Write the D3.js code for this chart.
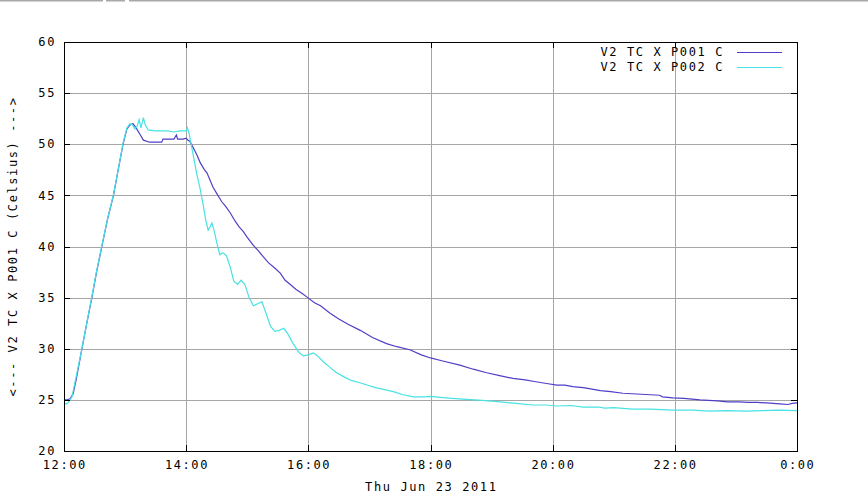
<!DOCTYPE html>
<html>
<head>
<meta charset="utf-8">
<script src="https://cdn.jsdelivr.net/npm/d3@7"></script>
<style>
  body { margin: 0; background: #fff; }
  text { font-family: "DejaVu Sans Mono", monospace; font-size: 12px; letter-spacing: 1.6px; fill: #000; }
</style>
</head>
<body>
<div id="chart"></div>
<script>
// Hours after 12:00 on Thu Jun 23 2011
const xTicks = [0, 2, 4, 6, 8, 10, 12];
const xTickLabels = ["12:00", "14:00", "16:00", "18:00", "20:00", "22:00", "0:00"];
const yTicks = [20, 25, 30, 35, 40, 45, 50, 55, 60];
const seriesNames = ["V2 TC X P001 C", "V2 TC X P002 C"];

// P001 readings [hour, celsius]
const p001 = [
  [0.00, 25.0], [0.05, 25.0], [0.10, 25.1], [0.15, 25.6], [0.20, 27.0], [0.29, 29.9],
  [0.37, 32.4], [0.45, 34.8], [0.53, 37.4], [0.62, 40.0], [0.71, 42.6], [0.81, 45.0],
  [0.89, 47.6], [0.97, 50.1], [1.03, 51.5], [1.08, 51.9], [1.13, 52.0], [1.18, 51.6],
  [1.25, 50.9], [1.30, 50.4], [1.40, 50.2], [1.50, 50.2], [1.60, 50.2], [1.62, 50.5],
  [1.80, 50.5], [1.84, 50.9], [1.86, 50.5], [1.95, 50.5], [2.00, 50.6], [2.03, 50.4],
  [2.06, 50.3], [2.12, 49.6], [2.18, 48.9], [2.23, 48.2], [2.30, 47.5], [2.34, 47.2],
  [2.44, 45.8], [2.50, 45.2], [2.58, 44.4], [2.65, 43.9], [2.72, 43.3], [2.80, 42.5],
  [2.87, 41.9], [2.93, 41.5], [3.00, 40.9], [3.10, 40.1], [3.18, 39.6], [3.26, 39.0],
  [3.35, 38.4], [3.45, 37.9], [3.54, 37.4], [3.62, 36.7], [3.70, 36.3], [3.80, 35.8],
  [3.90, 35.4], [3.99, 35.0], [4.10, 34.5], [4.20, 34.2], [4.35, 33.5], [4.50, 32.9],
  [4.65, 32.4], [4.85, 31.8], [5.05, 31.1], [5.28, 30.5], [5.45, 30.2], [5.66, 29.9],
  [5.85, 29.4], [6.00, 29.1], [6.20, 28.8], [6.48, 28.4], [6.70, 28.0], [6.92, 27.65],
  [7.15, 27.35], [7.35, 27.1], [7.55, 26.95], [7.70, 26.8], [7.90, 26.6], [8.07, 26.45],
  [8.20, 26.45], [8.33, 26.3], [8.50, 26.2], [8.60, 26.1], [8.78, 25.9], [8.95, 25.8],
  [9.15, 25.65], [9.30, 25.6], [9.45, 25.55], [9.60, 25.5], [9.75, 25.45], [9.80, 25.3],
  [9.97, 25.2], [10.15, 25.15], [10.41, 25.0], [10.55, 24.95], [10.70, 24.9], [10.86, 24.8],
  [11.05, 24.8], [11.20, 24.75], [11.35, 24.75], [11.50, 24.7], [11.72, 24.6], [11.85, 24.55],
  [11.92, 24.65], [12.00, 24.7]
];

// P002 readings [hour, celsius]
const p002 = [
  [0.00, 24.7], [0.04, 24.6], [0.08, 24.8], [0.13, 25.3], [0.20, 27.3], [0.29, 29.9],
  [0.37, 32.4], [0.45, 34.9], [0.53, 37.5], [0.62, 40.1], [0.71, 42.6], [0.81, 45.1],
  [0.89, 47.6], [0.97, 50.2], [1.03, 51.6], [1.08, 52.0], [1.12, 51.9], [1.16, 51.5],
  [1.20, 51.8], [1.23, 52.4], [1.26, 51.6], [1.30, 52.6], [1.33, 51.9], [1.38, 51.4],
  [1.50, 51.3], [1.70, 51.3], [1.80, 51.2], [1.90, 51.3], [2.00, 51.3], [2.02, 51.6],
  [2.05, 51.0], [2.11, 49.1], [2.17, 47.2], [2.23, 45.6], [2.28, 44.0], [2.32, 42.6],
  [2.36, 41.6], [2.39, 41.9], [2.42, 42.3], [2.46, 41.5], [2.50, 40.4], [2.55, 39.2],
  [2.60, 39.4], [2.66, 39.1], [2.72, 38.0], [2.78, 36.6], [2.84, 36.3], [2.90, 36.7],
  [2.96, 36.3], [3.03, 35.0], [3.10, 34.2], [3.17, 34.4], [3.24, 34.6], [3.30, 33.6],
  [3.38, 32.2], [3.45, 31.7], [3.52, 31.8], [3.60, 32.0], [3.67, 31.4], [3.75, 30.5],
  [3.85, 29.6], [3.92, 29.3], [4.00, 29.4], [4.08, 29.6], [4.15, 29.3], [4.25, 28.7],
  [4.35, 28.2], [4.45, 27.7], [4.57, 27.3], [4.70, 26.9], [4.83, 26.7], [4.96, 26.45],
  [5.10, 26.2], [5.25, 26.0], [5.39, 25.8], [5.55, 25.5], [5.72, 25.3], [5.90, 25.3],
  [6.00, 25.35], [6.16, 25.25], [6.35, 25.15], [6.59, 25.05], [6.85, 24.95], [7.14, 24.8],
  [7.40, 24.65], [7.68, 24.5], [7.88, 24.5], [8.07, 24.4], [8.30, 24.45], [8.50, 24.3],
  [8.75, 24.3], [8.85, 24.2], [9.00, 24.25], [9.30, 24.1], [9.60, 24.1], [9.97, 24.0],
  [10.30, 24.0], [10.55, 23.9], [10.85, 23.95], [11.15, 23.9], [11.45, 23.95], [11.70, 24.0],
  [12.00, 23.95]
];

const colors = ["#4f3fc6", "#48e2e2"];

const width = 868, height = 496;
const margin = { top: 42, right: 71, bottom: 45, left: 64 };
const innerW = width - margin.left - margin.right;
const innerH = height - margin.top - margin.bottom;

const svg = d3.select("#chart").append("svg")
  .attr("width", width)
  .attr("height", height);

// thin grey strip at the very top of the picture
[[0, 103], [106, 125], [129, 868]].forEach(([a, b]) => {
  svg.append("rect").attr("x", a).attr("y", 0).attr("width", b - a).attr("height", 1.5)
    .attr("fill", "#a8a8a8");
});

const x = d3.scaleLinear().domain([0, 12]).range([margin.left, margin.left + innerW]);
const y = d3.scaleLinear().domain([20, 60]).range([margin.top + innerH, margin.top]);

// Grid
const grid = svg.append("g").attr("stroke", "#a6a6a6").attr("stroke-width", 1);
grid.selectAll("line.v").data(xTicks.slice(1, -1)).enter().append("line")
  .attr("x1", d => Math.round(x(d)) + 0.5).attr("x2", d => Math.round(x(d)) + 0.5)
  .attr("y1", margin.top).attr("y2", margin.top + innerH);
grid.selectAll("line.h").data(yTicks.slice(1, -1)).enter().append("line")
  .attr("y1", d => Math.round(y(d)) + 0.5).attr("y2", d => Math.round(y(d)) + 0.5)
  .attr("x1", margin.left).attr("x2", margin.left + innerW);

// Curves
const line = d3.line().x(d => x(d[0])).y(d => y(d[1]));
[p001, p002].forEach((s, i) => {
  svg.append("path").datum(s)
    .attr("fill", "none")
    .attr("stroke", colors[i])
    .attr("stroke-width", 1.2)
    .attr("d", line);
});

// Border
svg.append("rect")
  .attr("x", margin.left + 0.5).attr("y", margin.top + 0.5)
  .attr("width", innerW).attr("height", innerH)
  .attr("fill", "none").attr("stroke", "#000").attr("stroke-width", 1);

// Ticks (mirrored, pointing inward)
const tickLen = 6;
const ticks = svg.append("g").attr("stroke", "#000").attr("stroke-width", 1);
yTicks.forEach(v => {
  const yy = Math.round(y(v)) + 0.5;
  ticks.append("line").attr("x1", margin.left).attr("x2", margin.left + tickLen).attr("y1", yy).attr("y2", yy);
  ticks.append("line").attr("x1", margin.left + innerW).attr("x2", margin.left + innerW - tickLen).attr("y1", yy).attr("y2", yy);
});
xTicks.forEach(v => {
  const xx = Math.round(x(v)) + 0.5;
  ticks.append("line").attr("x1", xx).attr("x2", xx).attr("y1", margin.top + innerH).attr("y2", margin.top + innerH - tickLen);
  ticks.append("line").attr("x1", xx).attr("x2", xx).attr("y1", margin.top).attr("y2", margin.top + tickLen);
});

// Tick labels
svg.append("g").selectAll("text").data(yTicks).enter().append("text")
  .attr("x", margin.left - 8)
  .attr("y", d => y(d))
  .attr("dy", "0.35em")
  .attr("text-anchor", "end")
  .text(d => d);

svg.append("g").selectAll("text").data(xTicks).enter().append("text")
  .attr("x", d => x(d) + 0.8)
  .attr("y", margin.top + innerH + 14)
  .attr("dy", "0.35em")
  .attr("text-anchor", "middle")
  .text((d, i) => xTickLabels[i]);

// Axis titles
svg.append("text")
  .attr("x", margin.left + innerW / 2 + 0.8)
  .attr("y", margin.top + innerH + 36)
  .attr("dy", "0.35em")
  .attr("text-anchor", "middle")
  .text("Thu Jun 23 2011");

svg.append("text")
  .attr("transform", `translate(13,${margin.top + innerH / 2}) rotate(-90)`)
  .attr("dy", "0.35em")
  .attr("text-anchor", "middle")
  .text("<--- V2 TC X P001 C (Celsius) --->");

// Legend
const legend = svg.append("g");
seriesNames.forEach((name, i) => {
  const ly = 52 + i * 15;
  legend.append("text")
    .attr("x", 724).attr("y", ly).attr("dy", "0.35em")
    .attr("text-anchor", "end")
    .text(name);
  legend.append("line")
    .attr("x1", 737).attr("x2", 782)
    .attr("y1", ly + 0.5).attr("y2", ly + 0.5)
    .attr("stroke", colors[i]).attr("stroke-width", 1.2);
});
</script>
</body>
</html>
